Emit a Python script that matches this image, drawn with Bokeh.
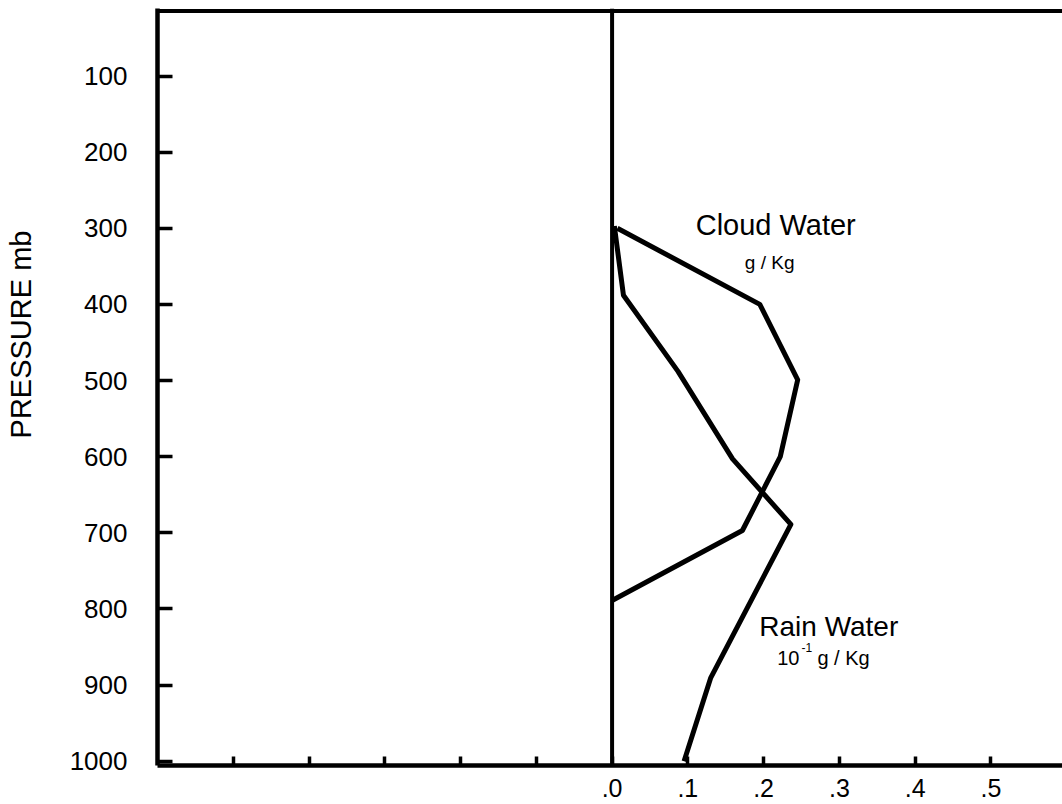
import math
from bokeh.plotting import figure
from bokeh.models import Range1d, FixedTicker, Span, Label, Title
from bokeh.embed import file_html
from bokeh.resources import INLINE

# ---- data ----
cloud_x = [0.007, 0.195, 0.245, 0.222, 0.172, 0.0]
cloud_p = [300, 400, 499, 600, 697, 789]

rain_x = [0.003, 0.015, 0.087, 0.159, 0.236, 0.130, 0.095]
rain_p = [297, 388, 488, 603, 689, 891, 1000]

y_ticks = [100, 200, 300, 400, 500, 600, 700, 800, 900, 1000]
x_ticks = [-0.5, -0.4, -0.3, -0.2, -0.1, 0.0, 0.1, 0.2, 0.3, 0.4, 0.5]
x_tick_labels = ["", "", "", "", "", ".0", ".1", ".2", ".3", ".4", ".5"]

FONT = "Liberation Sans"

p = figure(width=1062, height=804,
           x_range=Range1d(-0.6, 0.5945), y_range=Range1d(1005.7, 11.3),
           output_backend="svg", toolbar_location=None,
           min_border_left=157, min_border_right=0,
           min_border_top=8, min_border_bottom=39)
p.grid.visible = False
p.outline_line_color = None
p.background_fill_color = "white"
p.border_fill_color = "white"

# y axis
ya = p.yaxis[0]
ya.ticker = FixedTicker(ticks=y_ticks)
ya.major_tick_in = 15
ya.major_tick_out = 0
ya.major_tick_line_width = 3.5
ya.minor_tick_line_color = None
ya.axis_line_width = 4.5
ya.major_label_standoff = 30
ya.major_label_text_font = FONT
ya.major_label_text_font_size = "26px"
ya.major_label_text_font_style = "normal"
ya.major_label_text_color = "black"
ya.axis_label = " "
ya.axis_label_text_font_size = "1px"
ya.axis_label_standoff = 26

# x axis
xa = p.xaxis[0]
xa.ticker = FixedTicker(ticks=x_ticks)
xa.major_label_overrides = {t: lab for t, lab in zip(x_ticks, x_tick_labels)}
xa.major_tick_in = 9
xa.major_tick_out = 0
xa.major_tick_line_width = 3.5
xa.minor_tick_line_color = None
xa.axis_line_width = 4.5
xa.major_label_standoff = 13
xa.major_label_text_font = FONT
xa.major_label_text_font_size = "25px"
xa.major_label_text_font_style = "normal"
xa.major_label_text_color = "black"

# y-axis title
p.add_layout(Title(text="PRESSURE  mb", align="right", offset=214,
                   text_font=FONT, text_font_size="29px", text_font_style="normal",
                   text_color="black", standoff=0), "left")

# top border and zero line
p.add_layout(Span(location=14.6, dimension="width", line_color="black", line_width=4))
p.add_layout(Span(location=0.0, dimension="height", line_color="black", line_width=4))

# curves
p.line(cloud_x, cloud_p, line_color="black", line_width=5, line_join="round")
p.line(rain_x, rain_p, line_color="black", line_width=5, line_join="round")

# texts
def lab(x, y, text, size, align="left"):
    p.add_layout(Label(x=x, y=y, text=text, text_font=FONT, text_font_size=size,
                       text_align=align, text_baseline="alphabetic",
                       text_color="black"))

lab(0.216, 296, "Cloud Water", "29px", align="center")
lab(0.208, 345, "g / Kg", "19px", align="center")
lab(0.286, 823, "Rain Water", "28px", align="center")
lab(0.218, 865, "10", "20px")
lab(0.250, 851, "-1", "12px")
lab(0.271, 865, "g / Kg", "20px")

open("out.html", "w").write(file_html(p, INLINE))
